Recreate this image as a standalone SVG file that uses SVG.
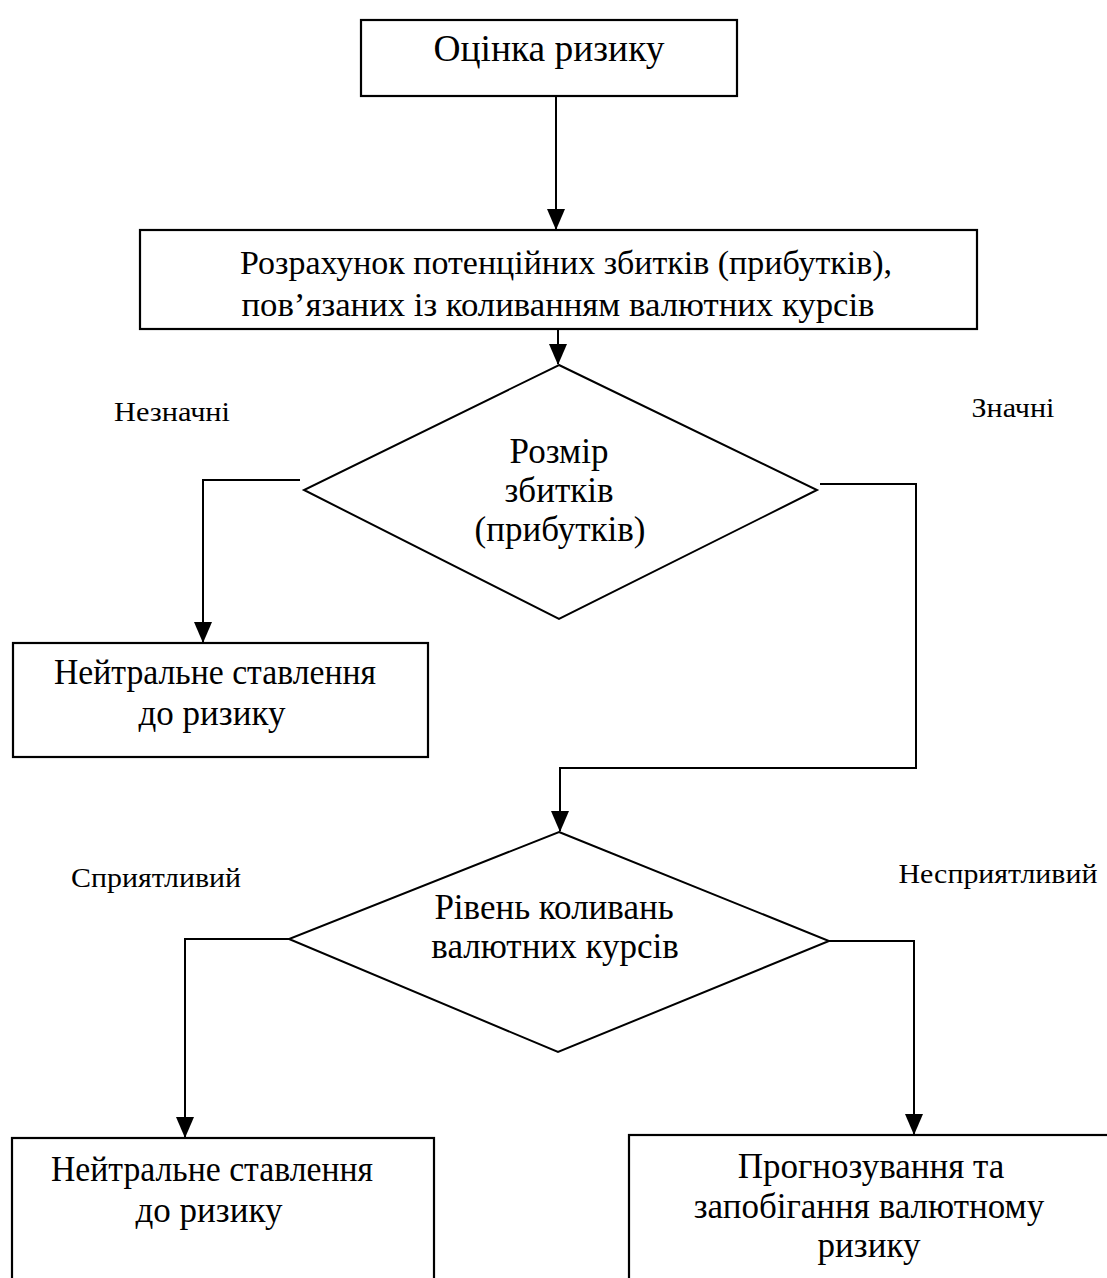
<svg xmlns="http://www.w3.org/2000/svg" width="1107" height="1278" viewBox="0 0 1107 1278">
<style>
.box{fill:#fff;stroke:#000;stroke-width:2.2}
.dia{fill:#fff;stroke:#000;stroke-width:2}
.t{font-family:"Liberation Serif","Times New Roman",serif;fill:#000;text-anchor:middle}
.m{font-size:35px}
.l{font-size:28px}
.c{fill:none;stroke:#000;stroke-width:2}
</style>
<rect width="1107" height="1278" fill="#fff"/>
<g id="connectors">
<path class="c" d="M556,96 V229"/>
<path class="c" d="M558,330 V364"/>
<path class="c" d="M300,480 H203 V642"/>
<path class="c" d="M820,484 H916 V768 H560 V831"/>
<path class="c" d="M289,939 H185 V1137"/>
<path class="c" d="M829,941 H914 V1134"/>
<path d="M547,209 L565,209 L556,230 Z"/>
<path d="M549,344 L567,344 L558,365 Z"/>
<path d="M194,622 L212,622 L203,643 Z"/>
<path d="M551,811 L569,811 L560,832 Z"/>
<path d="M176,1117 L194,1117 L185,1138 Z"/>
<path d="M905,1114 L923,1114 L914,1135 Z"/>
</g>
<g id="n1">
<rect class="box" x="361" y="20" width="376" height="76"/>
<text class="t" x="549" y="61" style="font-size:37px" textLength="231" lengthAdjust="spacingAndGlyphs">Оцінка ризику</text>
</g>
<g id="n2">
<rect class="box" x="140" y="230" width="837" height="99"/>
<text class="t" x="566" y="274" style="font-size:34px" textLength="652" lengthAdjust="spacingAndGlyphs">Розрахунок потенційних збитків (прибутків),</text>
<text class="t" x="558" y="316" style="font-size:34px" textLength="633" lengthAdjust="spacingAndGlyphs">пов’язаних із коливанням валютних курсів</text>
</g>
<g id="n3">
<polygon class="dia" points="559,365 817,490 559,619 304,490"/>
<text class="t m" x="559" y="463">Розмір</text>
<text class="t m" x="559" y="502">збитків</text>
<text class="t m" x="560" y="541">(прибутків)</text>
</g>
<g id="n4">
<rect class="box" x="13" y="643" width="415" height="114"/>
<text class="t m" x="215" y="684" textLength="322" lengthAdjust="spacingAndGlyphs">Нейтральне ставлення</text>
<text class="t m" x="212" y="725">до ризику</text>
</g>
<g id="n5">
<polygon class="dia" points="559,832 829,941 558,1052 289,939"/>
<text class="t m" x="554" y="919">Рівень коливань</text>
<text class="t m" x="555" y="958">валютних курсів</text>
</g>
<g id="n6">
<rect class="box" x="12" y="1138" width="422" height="160"/>
<text class="t m" x="212" y="1181" textLength="322" lengthAdjust="spacingAndGlyphs">Нейтральне ставлення</text>
<text class="t m" x="209" y="1222">до ризику</text>
</g>
<g id="n7">
<rect class="box" x="629" y="1135" width="500" height="160"/>
<text class="t m" x="871" y="1178">Прогнозування та</text>
<text class="t m" x="869" y="1218">запобігання валютному</text>
<text class="t m" x="869" y="1257">ризику</text>
</g>
<g id="labels">
<text class="t l" x="172" y="421" textLength="116" lengthAdjust="spacingAndGlyphs">Незначні</text>
<text class="t l" x="1013" y="417" textLength="83" lengthAdjust="spacingAndGlyphs">Значні</text>
<text class="t l" x="156" y="887" textLength="170" lengthAdjust="spacingAndGlyphs">Сприятливий</text>
<text class="t l" x="998" y="883" textLength="199" lengthAdjust="spacingAndGlyphs">Несприятливий</text>
</g>
</svg>
